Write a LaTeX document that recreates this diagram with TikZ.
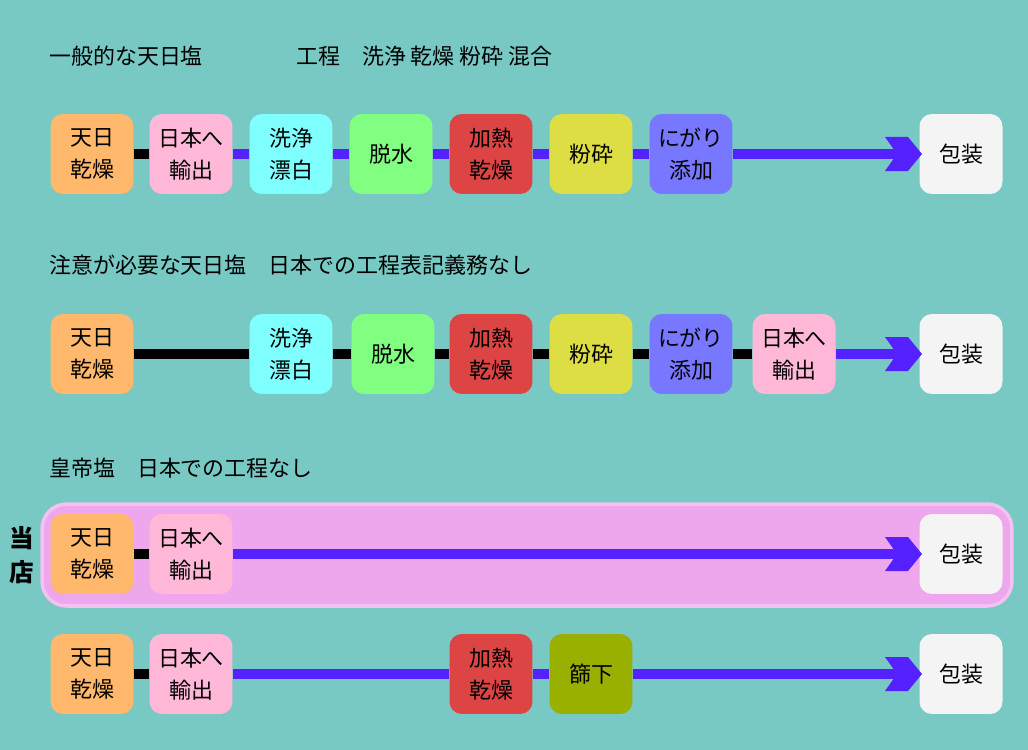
\documentclass[tikz,border=0pt]{standalone}
\usepackage{fontspec}
\setmainfont{Noto Sans CJK JP}
\usetikzlibrary{positioning}
\definecolor{bgteal}{HTML}{78C8C4}
\definecolor{boxorange}{HTML}{FFB86C}
\definecolor{boxpink}{HTML}{FFB8D8}
\definecolor{boxcyan}{HTML}{80FFFF}
\definecolor{boxgreen}{HTML}{80FF80}
\definecolor{boxred}{HTML}{DD4444}
\definecolor{boxyellow}{HTML}{DDDD44}
\definecolor{boxblue}{HTML}{7777FF}
\definecolor{boxwhite}{HTML}{F4F4F4}
\definecolor{boxolive}{HTML}{99B000}
\definecolor{flowblue}{HTML}{5522FF}
\definecolor{shoppink}{HTML}{EEA6EC}
\newcommand{\chevron}[1]{\fill[flowblue] (#1) ++(-12,-17) -- ++(23,0) -- ++(14,17) -- ++(-14,17) -- ++(-23,0) -- ++(12,-17) -- cycle;}

\begin{document}
\begin{tikzpicture}[
    x=0.02cm, y=-0.02cm,
    stage/.style={rectangle, rounded corners=7pt, minimum width=1.66cm, minimum height=1.6cm, inner sep=0pt, font=\fontsize{12.5}{18}\selectfont, align=center},
    title/.style={anchor=west, font=\fontsize{12.5}{15}\selectfont},
    black line/.style={line width=6pt, black},
    blue line/.style={line width=6pt, flowblue}
]
\fill[bgteal] (0,0) rectangle (1028,750);

% Row 1
\node[title] at (43,56) {一般的な天日塩};
\node[title] at (290,56) {工程　洗浄 乾燥 粉砕 混合};
\node[stage, fill=boxorange] (a1) at (92,154) {天日\\乾燥};
\node[stage, fill=boxpink] (a2) at (191,154) {日本へ\\輸出};
\node[stage, fill=boxcyan] (a3) at (291,154) {洗浄\\漂白};
\node[stage, fill=boxgreen] (a4) at (391,154) {脱水};
\node[stage, fill=boxred] (a5) at (491,154) {加熱\\乾燥};
\node[stage, fill=boxyellow] (a6) at (591,154) {粉砕};
\node[stage, fill=boxblue] (a7) at (691,154) {にがり\\添加};
\node[stage, fill=boxwhite] (a8) at (961,154) {包装};
\coordinate (ae) at (897,154);
\draw[black line] (a1) -- (a2);
\draw[blue line] (a2) -- (a3) -- (a4) -- (a5) -- (a6) -- (a7) -- (ae);
\chevron{ae}

% Row 2
\node[title] at (43,265) {注意が必要な天日塩　日本での工程表記義務なし};
\node[stage, fill=boxorange] (b1) at (92,354) {天日\\乾燥};
\node[stage, fill=boxcyan] (b2) at (291,354) {洗浄\\漂白};
\node[stage, fill=boxgreen] (b3) at (393,354) {脱水};
\node[stage, fill=boxred] (b4) at (491,354) {加熱\\乾燥};
\node[stage, fill=boxyellow] (b5) at (591,354) {粉砕};
\node[stage, fill=boxblue] (b6) at (691,354) {にがり\\添加};
\node[stage, fill=boxpink] (b7) at (794,354) {日本へ\\輸出};
\node[stage, fill=boxwhite] (b8) at (961,354) {包装};
\coordinate (be) at (897,354);
\draw[black line] (b1) -- (b2) -- (b3) -- (b4) -- (b5) -- (b6) -- (b7);
\draw[blue line] (b7) -- (be);
\chevron{be}

% Row 3 (shop)
\node[title] at (43,468) {皇帝塩　日本での工程なし};
\node[rectangle, rounded corners=14pt, fill=shoppink, draw=shoppink!70!white, line width=2pt, minimum width=19.4cm, minimum height=2.04cm] (shop) at (527,555) {};
\node[font=\fontsize{14}{15}\selectfont\bfseries, align=center] (shopname) at (22,555) {当\\[4pt]店};
\node[stage, fill=boxorange] (c1) at (92,554) {天日\\乾燥};
\node[stage, fill=boxpink] (c2) at (191,554) {日本へ\\輸出};
\node[stage, fill=boxwhite] (c3) at (961,554) {包装};
\coordinate (ce) at (897,554);
\draw[black line] (c1) -- (c2);
\draw[blue line] (c2) -- (ce);
\chevron{ce}

% Row 4
\node[stage, fill=boxorange] (d1) at (92,674) {天日\\乾燥};
\node[stage, fill=boxpink] (d2) at (191,674) {日本へ\\輸出};
\node[stage, fill=boxred] (d3) at (491,674) {加熱\\乾燥};
\node[stage, fill=boxolive] (d4) at (591,674) {篩下};
\node[stage, fill=boxwhite] (d5) at (961,674) {包装};
\coordinate (de) at (897,674);
\draw[black line] (d1) -- (d2);
\draw[blue line] (d2) -- (d3) -- (d4) -- (de);
\chevron{de}
\end{tikzpicture}
\end{document}
